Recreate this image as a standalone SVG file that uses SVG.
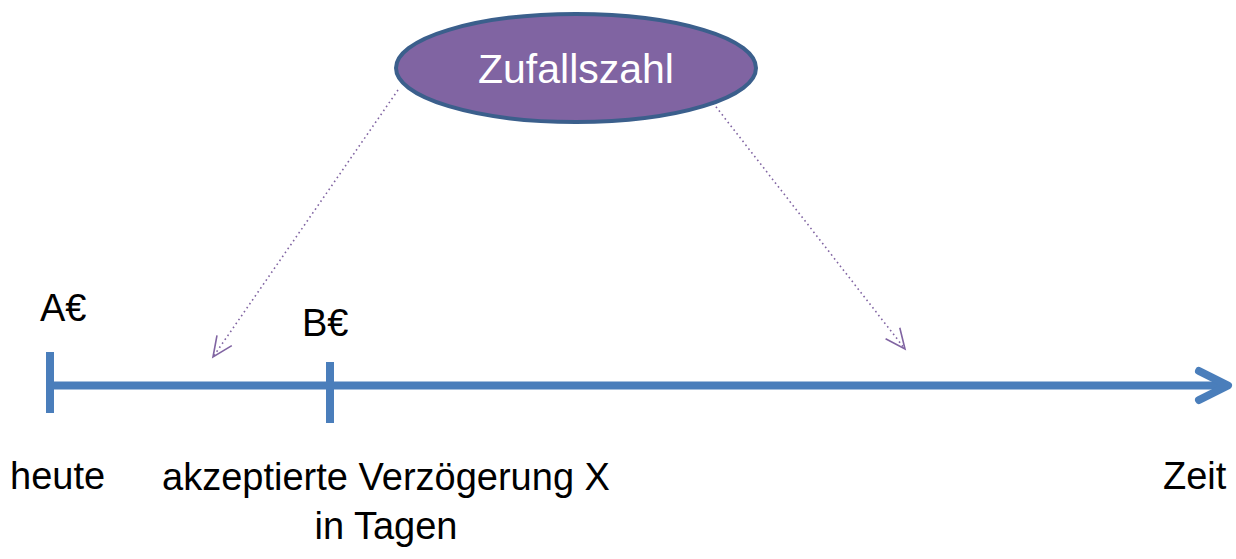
<svg xmlns="http://www.w3.org/2000/svg" width="1236" height="559" viewBox="0 0 1236 559">
<defs>
<style>
.lbl{font-family:"Liberation Sans",Arial,sans-serif;font-size:38px;fill:#000}
.axis{stroke:#4A7EBB;stroke-width:8;fill:none}
.dot{stroke:#8064A2;stroke-width:1.6;stroke-dasharray:1.6 3.2;fill:none}
</style>
<marker id="vArrow" markerUnits="userSpaceOnUse" markerWidth="26" markerHeight="26" viewBox="-22 -12 26 24" refX="0" refY="0" orient="auto">
<path d="M-20,-9 L0,0 L-20,9" fill="none" stroke="#8064A2" stroke-width="1.6"/>
</marker>
</defs>
<rect width="1236" height="559" fill="#fff"/>
<g id="connectors">
<path class="dot" d="M398,90 L213,357" marker-end="url(#vArrow)"/>
<path class="dot" d="M713,103 L905,349" marker-end="url(#vArrow)"/>
</g>
<g id="timeline">
<line class="axis" x1="50" y1="385.5" x2="1226" y2="385.5"/>
<polyline class="axis" points="1199,371 1228,385.5 1199,400" stroke-linecap="round" stroke-linejoin="round"/>
<line class="axis" x1="50" y1="352" x2="50" y2="413"/>
<line class="axis" x1="330" y1="362" x2="330" y2="423"/>
</g>
<g id="zufallszahl">
<ellipse cx="576" cy="68" rx="180" ry="54" fill="#8064A2" stroke="#3B5F8C" stroke-width="4"/>
<text x="576" y="83" text-anchor="middle" font-family="'Liberation Sans',Arial,sans-serif" font-size="41" fill="#fff">Zufallszahl</text>
</g>
<g id="labels">
<text class="lbl" x="40" y="321">A€</text>
<text class="lbl" x="302" y="336">B€</text>
<text class="lbl" x="10" y="489">heute</text>
<text class="lbl" x="386" y="490" text-anchor="middle">akzeptierte Verzögerung X</text>
<text class="lbl" x="386" y="539" text-anchor="middle">in Tagen</text>
<text class="lbl" x="1163" y="489">Zeit</text>
</g>
</svg>
